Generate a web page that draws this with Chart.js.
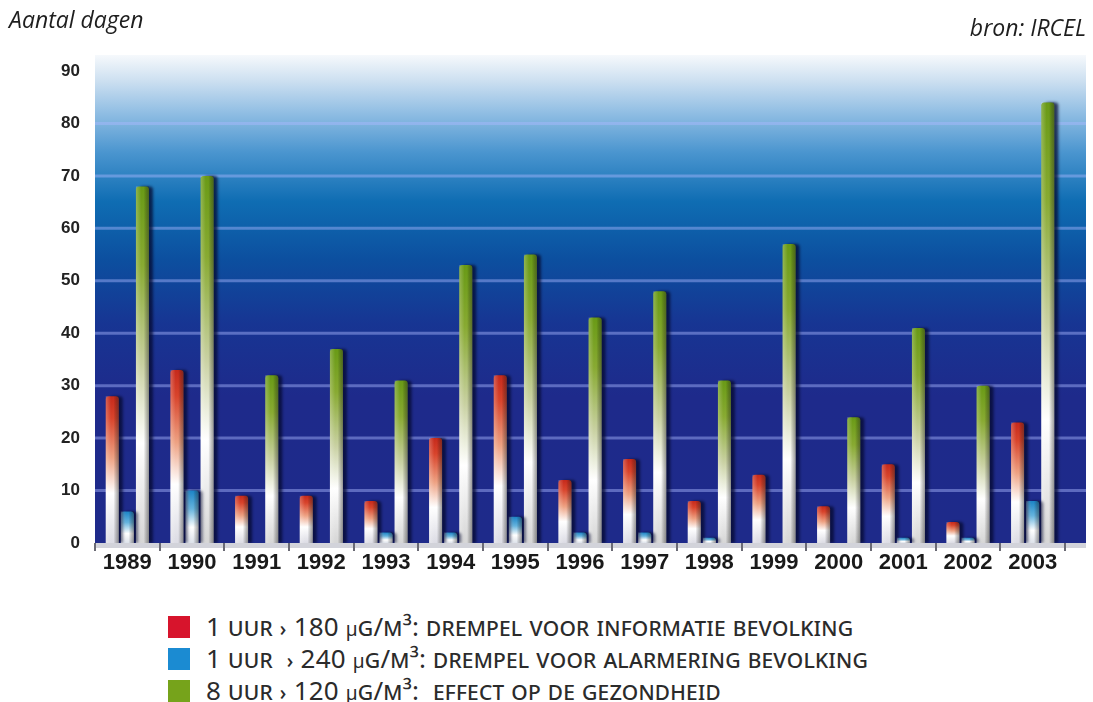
<!DOCTYPE html>
<html>
<head>
<meta charset="utf-8">
<script src="https://cdn.jsdelivr.net/npm/chart.js@4/dist/chart.umd.min.js"></script>
<style>
    body { margin: 0; background: #fff; width: 1093px; height: 702px; overflow: hidden; position: relative; }
    #chart { position: absolute; left: 0; top: 0; }
    #legend { position: absolute; left: 168px; top: 611px; font-family: "Noto Sans", sans-serif; color: #2b2b2b; }
    .row { height: 32px; display: flex; align-items: center; }
    .sw { width: 22px; height: 22px; margin-right: 16px; flex: none; }
    .txt { font-variant: small-caps; font-size: 26px; line-height: 32px; letter-spacing: 0.2px; white-space: pre; }
    .mu { font-variant: normal; font-size: 19px; }
</style>
</head>
<body>
<canvas id="chart" width="1093" height="600"></canvas>
<div id="legend"></div>
<script>
const years = ['1989', '1990', '1991', '1992', '1993', '1994', '1995', '1996', '1997', '1998', '1999', '2000', '2001', '2002', '2003'];
const informatie = [28, 33, 9, 9, 8, 20, 32, 12, 16, 8, 13, 7, 15, 4, 23];
const alarmering = [6, 10, 0, 0, 2, 2, 5, 2, 2, 1, 0, 0, 1, 1, 8];
const gezondheid = [68, 70, 32, 37, 31, 53, 55, 43, 48, 31, 57, 24, 41, 30, 84];
const yTicks = [0, 10, 20, 30, 40, 50, 60, 70, 80, 90];

const legendItems = [
    { color: '#d7142c', html: '1 uur › 180 <span class="mu">µ</span>g/m³: drempel voor informatie bevolking' },
    { color: '#1b8bd2', html: '1 uur &nbsp;› 240 <span class="mu">µ</span>g/m³: drempel voor alarmering bevolking' },
    { color: '#76a31b', html: '8 uur › 120 <span class="mu">µ</span>g/m³: &nbsp;effect op de gezondheid' }
];

// vertical colour ramps, top of bar -> base
const ramps = [
    [[0, '#c62a1c'], [0.15, '#d8442c'], [0.42, '#eea283'], [0.66, '#ffffff'], [1, '#dcdce4']],
    [[0, '#1c84c6'], [0.35, '#66b4de'], [0.7, '#ffffff'], [1, '#dde2ea']],
    [[0, '#699a16'], [0.22, '#88aa32'], [0.5, '#c9d1a2'], [0.72, '#ffffff'], [1, '#d6d6d6']]
];

const legendEl = document.getElementById('legend');
legendItems.forEach(item => {
    const row = document.createElement('div');
    row.className = 'row';
    row.innerHTML = `<div class="sw" style="background:${item.color}"></div><div class="txt">${item.html}</div>`;
    legendEl.appendChild(row);
});

const plotDecor = {
    id: 'plotDecor',
    beforeDraw(chart) {
        const { ctx, chartArea } = chart;
        const left = chartArea.left, right = chartArea.right + 21, bottom = chartArea.bottom;
        const top = 55;
        ctx.save();
        const bg = ctx.createLinearGradient(0, top, 0, bottom);
        bg.addColorStop(0, '#f6f9fc');
        bg.addColorStop(0.05, '#cfe1f1');
        bg.addColorStop(0.12, '#8fbde3');
        bg.addColorStop(0.2, '#4a95cf');
        bg.addColorStop(0.3, '#0f6db3');
        bg.addColorStop(0.42, '#0c4f9f');
        bg.addColorStop(0.55, '#173593');
        bg.addColorStop(0.7, '#1e2a8b');
        bg.addColorStop(1, '#1e2a8a');
        ctx.fillStyle = bg;
        ctx.fillRect(left, top, right - left, bottom - top);

        // horizontal grid lines, stretched over the full background
        const yScale = chart.scales.y;
        ctx.strokeStyle = 'rgba(170,185,255,0.45)';
        ctx.lineWidth = 3;
        yScale.ticks.forEach((t, i) => {
            if (t.value === 0 || t.value === 90) return;
            const y = yScale.getPixelForTick(i);
            ctx.beginPath();
            ctx.moveTo(left, y);
            ctx.lineTo(right, y);
            ctx.stroke();
        });

        // floor strip under the bars
        ctx.fillStyle = '#d2d3da';
        ctx.fillRect(left, bottom, right - left, 5);
        ctx.restore();

        // texts above the plot
        ctx.save();
        ctx.fillStyle = '#1e1e1e';
        ctx.font = 'italic 23px "Open Sans"';
        ctx.textBaseline = 'alphabetic';
        ctx.textAlign = 'left';
        ctx.fillText('Aantal dagen', 9, 28);
        ctx.textAlign = 'right';
        ctx.fillText('bron: IRCEL', 1086, 36);
        ctx.restore();
    },
    beforeDatasetsDraw(chart) {
        const ctx = chart.ctx;
        chart.data.datasets.forEach((ds, i) => {
            chart.getDatasetMeta(i).data.forEach(bar => {
                const g = ctx.createLinearGradient(0, bar.y, 0, bar.base);
                ramps[i].forEach(s => g.addColorStop(s[0], s[1]));
                bar.options.backgroundColor = g;
            });
        });
        ctx.save();
        ctx.shadowColor = 'rgba(4,8,45,0.75)';
        ctx.shadowOffsetX = 4;
        ctx.shadowOffsetY = 0;
        ctx.shadowBlur = 3;
    },
    afterDatasetsDraw(chart) {
        const ctx = chart.ctx;
        ctx.restore();
        // cylinder shading on top of every bar
        ctx.save();
        chart.data.datasets.forEach((ds, i) => {
            chart.getDatasetMeta(i).data.forEach(bar => {
                const h = bar.base - bar.y;
                if (h <= 0.5) return;
                const x0 = bar.x - bar.width / 2;
                const g = ctx.createLinearGradient(x0, 0, x0 + bar.width, 0);
                g.addColorStop(0, 'rgba(255,255,255,0.25)');
                g.addColorStop(0.4, 'rgba(255,255,255,0)');
                g.addColorStop(0.6, 'rgba(0,0,0,0)');
                g.addColorStop(1, 'rgba(40,40,40,0.45)');
                ctx.fillStyle = g;
                ctx.fillRect(x0, bar.y, bar.width, h);
            });
        });
        ctx.restore();
    }
};

function makeDataset(label, values) {
    return {
        label: label,
        data: values,
        backgroundColor: () => '#ffffff',
        borderWidth: 0,
        borderSkipped: false,
        borderRadius: { topLeft: 3, topRight: 3, bottomLeft: 0, bottomRight: 0 },
        categoryPercentage: 0.7,
        barPercentage: 0.86
    };
}

new Chart(document.getElementById('chart'), {
    type: 'bar',
    data: {
        labels: years,
        datasets: [
            makeDataset('1 uur > 180 µg/m³: drempel voor informatie bevolking', informatie),
            makeDataset('1 uur > 240 µg/m³: drempel voor alarmering bevolking', alarmering),
            makeDataset('8 uur > 120 µg/m³: effect op de gezondheid', gezondheid)
        ]
    },
    options: {
        responsive: false,
        animation: false,
        layout: { padding: { top: 71, right: 28, left: 0, bottom: 0 } },
        plugins: {
            legend: { display: false },
            tooltip: { enabled: false }
        },
        scales: {
            x: {
                grid: { display: true, drawOnChartArea: false, drawTicks: true, tickLength: 8, color: '#6a6a74', lineWidth: 2, offset: true },
                border: { display: false },
                ticks: { color: '#1a1a1a', padding: -1, font: { family: 'Liberation Sans', weight: 'bold', size: 22 } },
                afterFit(scale) { scale.height = 57; }
            },
            y: {
                min: 0,
                max: 90,
                afterBuildTicks(scale) { scale.ticks = yTicks.map(v => ({ value: v })); },
                grid: { display: false, drawTicks: false },
                border: { display: false },
                ticks: { color: '#222', padding: 15, font: { family: 'Liberation Sans', weight: 'bold', size: 17 } },
                afterFit(scale) { scale.width = 95; }
            }
        }
    },
    plugins: [plotDecor]
});
</script>
</body>
</html>
